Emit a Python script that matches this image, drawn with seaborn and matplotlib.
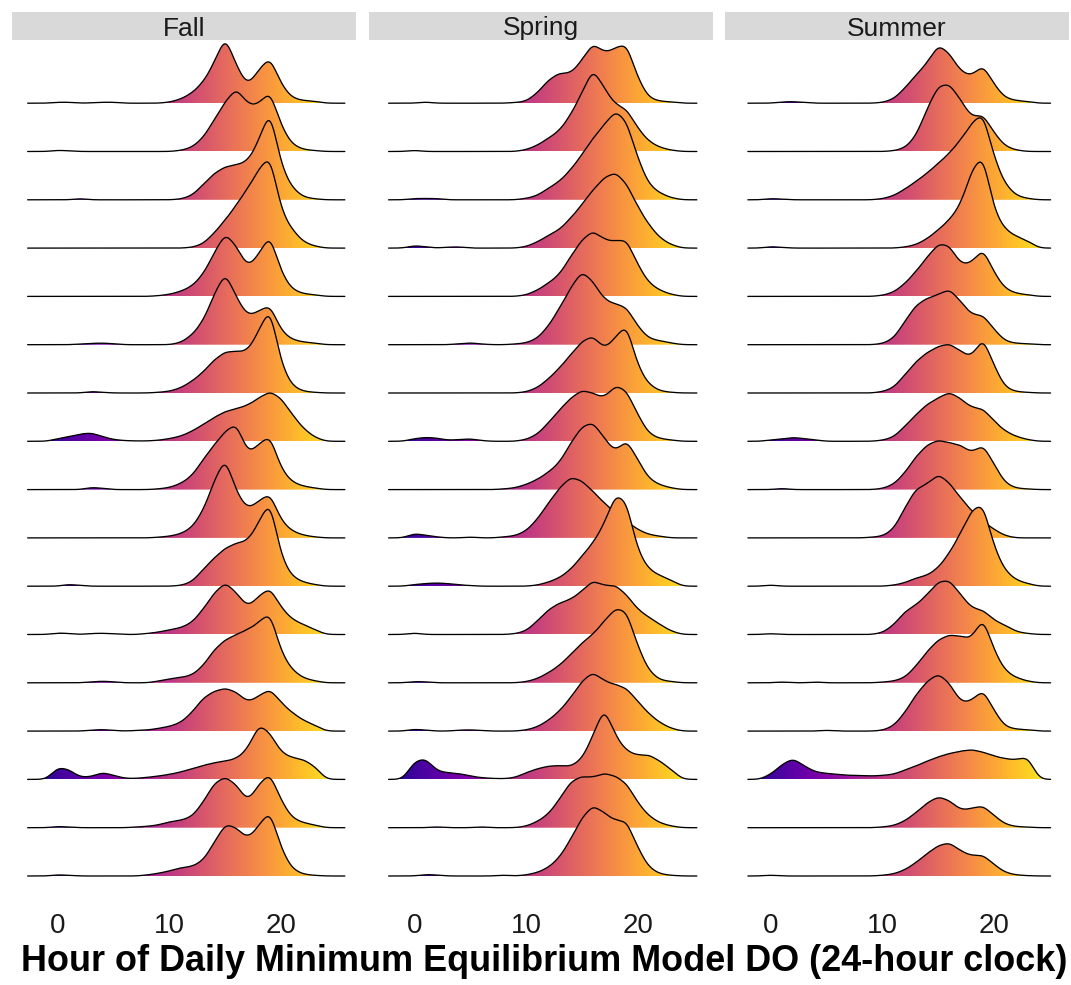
import numpy as np
import matplotlib
matplotlib.use("Agg")
import matplotlib.pyplot as plt
from matplotlib.patches import Polygon, Rectangle
from matplotlib.colors import Normalize
import seaborn as sns

# Hour of day (0-23) at which the daily minimum occurred
HOURS = np.arange(24)

SEASONS = ["Fall", "Spring", "Summer"]
X_TICKS = [0, 10, 20]
X_LABEL = "Hour of Daily Minimum Equilibrium Model DO (24-hour clock)"

# Day counts per hour for each site (top ridge first), one list per season
FALL = [
    [3, 3, 0, 1, 3, 3, 0, 0, 0, 0, 3, 12, 30, 62, 120, 210, 110, 50, 100, 145, 55, 15, 8, 6],
    [4, 2, 0, 0, 0, 0, 0, 0, 0, 0, 0, 3, 12, 40, 95, 150, 195, 140, 140, 190, 75, 20, 6, 3],
    [0, 0, 4, 0, 0, 0, 0, 0, 0, 0, 0, 2, 12, 45, 80, 100, 105, 115, 175, 285, 100, 35, 8, 3],
    [0, 0, 0, 0, 0, 0, 0, 0, 0, 0, 0, 0, 2, 12, 45, 85, 130, 180, 235, 290, 110, 55, 18, 6],
    [0, 0, 0, 0, 0, 0, 0, 0, 0, 2, 6, 15, 30, 65, 130, 195, 150, 85, 125, 195, 70, 20, 8, 5],
    [0, 0, 2, 4, 5, 3, 0, 0, 0, 0, 0, 6, 28, 70, 150, 225, 140, 85, 100, 125, 40, 15, 8, 5],
    [0, 0, 0, 5, 2, 0, 0, 0, 0, 2, 5, 15, 35, 62, 100, 125, 125, 125, 185, 270, 85, 20, 5, 2],
    [8, 14, 22, 26, 14, 5, 2, 1, 1, 3, 8, 15, 30, 50, 72, 90, 98, 108, 130, 152, 130, 80, 38, 12],
    [0, 0, 0, 7, 4, 0, 0, 0, 0, 2, 6, 18, 40, 90, 135, 175, 205, 105, 135, 170, 60, 22, 10, 5],
    [0, 0, 0, 0, 0, 0, 0, 0, 0, 2, 5, 12, 30, 80, 170, 250, 135, 85, 110, 140, 50, 20, 8, 3],
    [0, 6, 2, 0, 0, 0, 0, 0, 0, 0, 0, 2, 12, 50, 85, 115, 130, 135, 190, 270, 85, 28, 12, 5],
    [5, 3, 0, 3, 4, 2, 0, 0, 3, 7, 14, 20, 35, 75, 125, 160, 125, 80, 115, 145, 80, 45, 30, 15],
    [0, 0, 0, 3, 5, 3, 0, 0, 0, 5, 12, 16, 22, 50, 100, 130, 145, 160, 180, 220, 90, 38, 14, 6],
    [0, 0, 0, 3, 5, 2, 0, 2, 3, 8, 14, 25, 55, 100, 120, 130, 118, 85, 105, 130, 85, 55, 32, 18],
    [38, 30, 6, 8, 22, 12, 3, 3, 6, 10, 15, 22, 32, 42, 50, 55, 62, 90, 170, 140, 80, 65, 60, 40],
    [4, 2, 0, 0, 0, 0, 0, 2, 4, 8, 18, 22, 32, 75, 135, 155, 130, 75, 130, 170, 80, 28, 15, 8],
    [4, 2, 0, 0, 0, 0, 0, 0, 3, 8, 15, 25, 28, 45, 100, 160, 145, 110, 150, 205, 80, 20, 5, 2],
]

SPRING = [
    [0, 4, 0, 0, 0, 0, 0, 0, 0, 2, 5, 30, 70, 92, 88, 128, 185, 150, 165, 185, 75, 15, 6, 4],
    [4, 0, 0, 0, 0, 0, 0, 0, 0, 0, 5, 18, 40, 62, 110, 175, 255, 190, 140, 130, 70, 30, 12, 4],
    [4, 4, 4, 0, 0, 0, 0, 0, 0, 0, 4, 12, 35, 55, 90, 135, 185, 225, 270, 240, 125, 45, 20, 6],
    [8, 4, 0, 3, 4, 0, 0, 0, 0, 0, 4, 18, 38, 55, 90, 130, 175, 212, 230, 195, 125, 70, 30, 10],
    [0, 0, 0, 0, 0, 0, 0, 0, 0, 0, 4, 18, 40, 65, 120, 170, 200, 170, 165, 175, 95, 40, 18, 6],
    [0, 0, 0, 0, 3, 6, 2, 0, 0, 2, 5, 18, 55, 110, 170, 225, 190, 135, 122, 115, 55, 18, 12, 5],
    [0, 0, 0, 0, 0, 0, 0, 0, 0, 0, 3, 15, 42, 75, 115, 155, 175, 130, 165, 215, 80, 25, 6, 2],
    [8, 12, 10, 3, 5, 8, 2, 0, 0, 0, 5, 20, 55, 95, 130, 155, 145, 128, 170, 155, 80, 22, 8, 4],
    [0, 0, 0, 0, 0, 0, 0, 0, 2, 5, 15, 30, 52, 80, 140, 190, 205, 155, 110, 155, 90, 32, 14, 5],
    [14, 8, 3, 0, 0, 3, 0, 0, 3, 6, 20, 55, 105, 150, 185, 172, 140, 105, 75, 50, 25, 10, 5, 0],
    [5, 8, 10, 8, 4, 2, 0, 0, 0, 0, 0, 3, 12, 25, 50, 90, 130, 185, 280, 260, 105, 50, 32, 18],
    [5, 0, 0, 0, 0, 0, 0, 0, 0, 2, 10, 40, 75, 95, 105, 130, 165, 145, 150, 120, 75, 52, 30, 10],
    [4, 3, 0, 0, 0, 0, 0, 0, 0, 0, 3, 12, 30, 52, 85, 120, 145, 185, 225, 220, 110, 35, 8, 4],
    [6, 3, 0, 0, 3, 4, 2, 0, 0, 0, 3, 12, 32, 60, 100, 150, 180, 150, 140, 130, 90, 52, 25, 8],
    [55, 65, 25, 20, 18, 10, 5, 3, 2, 5, 20, 32, 40, 42, 38, 60, 130, 225, 130, 85, 72, 75, 55, 30],
    [0, 0, 3, 0, 0, 0, 3, 0, 0, 0, 4, 18, 40, 85, 140, 155, 150, 165, 155, 135, 75, 35, 14, 5],
    [0, 5, 3, 0, 0, 0, 0, 0, 3, 0, 3, 10, 25, 55, 110, 175, 215, 190, 165, 170, 85, 25, 6, 2],
]

SUMMER = [
    [0, 4, 5, 2, 0, 0, 0, 0, 0, 0, 2, 12, 45, 85, 120, 180, 150, 95, 80, 120, 55, 15, 8, 5],
    [0, 0, 0, 0, 0, 0, 0, 0, 0, 0, 0, 2, 10, 45, 130, 200, 205, 155, 100, 115, 55, 15, 4, 0],
    [4, 2, 0, 0, 0, 0, 0, 0, 0, 0, 3, 12, 32, 55, 80, 110, 140, 180, 230, 270, 125, 45, 12, 4],
    [5, 2, 0, 0, 0, 0, 0, 0, 0, 0, 0, 0, 3, 10, 28, 55, 85, 130, 235, 290, 110, 55, 35, 22],
    [0, 0, 0, 0, 0, 0, 0, 0, 0, 0, 3, 12, 38, 75, 118, 160, 155, 95, 100, 150, 70, 22, 9, 5],
    [0, 0, 0, 0, 0, 0, 0, 0, 0, 0, 3, 18, 70, 120, 140, 150, 170, 130, 88, 92, 45, 10, 4, 3],
    [0, 0, 0, 0, 0, 0, 0, 0, 0, 0, 4, 15, 55, 95, 122, 140, 150, 125, 105, 175, 80, 15, 4, 2],
    [4, 7, 12, 8, 4, 0, 0, 0, 0, 0, 3, 12, 45, 80, 112, 130, 150, 128, 100, 100, 60, 30, 14, 5],
    [0, 4, 0, 0, 0, 0, 0, 0, 0, 0, 3, 15, 50, 100, 135, 150, 140, 135, 108, 140, 75, 18, 4, 2],
    [0, 0, 0, 0, 0, 0, 0, 0, 0, 2, 5, 25, 90, 150, 160, 195, 165, 120, 80, 50, 25, 6, 0, 0],
    [4, 0, 0, 0, 0, 0, 0, 0, 0, 0, 0, 3, 10, 25, 32, 55, 100, 160, 230, 255, 115, 45, 18, 8],
    [3, 0, 0, 0, 0, 0, 0, 0, 0, 0, 5, 28, 70, 88, 120, 160, 165, 120, 78, 75, 42, 28, 8, 3],
    [0, 3, 0, 0, 3, 0, 0, 0, 0, 0, 2, 5, 15, 50, 95, 130, 145, 140, 130, 205, 95, 35, 15, 5],
    [0, 0, 0, 0, 0, 3, 0, 0, 0, 0, 2, 15, 55, 110, 150, 175, 145, 85, 90, 130, 60, 12, 6, 4],
    [15, 45, 65, 40, 22, 18, 15, 12, 12, 10, 12, 15, 28, 40, 55, 68, 78, 85, 90, 82, 70, 62, 58, 72],
    [0, 0, 0, 0, 0, 0, 0, 0, 0, 0, 2, 6, 20, 45, 75, 95, 82, 52, 58, 68, 36, 10, 3, 2],
    [3, 0, 0, 0, 0, 0, 0, 0, 0, 0, 2, 6, 18, 40, 68, 92, 102, 75, 60, 65, 34, 10, 3, 1],
]

SEASON_DATA = {"Fall": FALL, "Spring": SPRING, "Summer": SUMMER}

# Kernel bandwidth (hours) and how far each season's curves run past the data
BANDWIDTH = 0.6
EXTEND = {"Fall": 2.7, "Spring": 2.3, "Summer": 2.05}
COUNTS_PER_ROW = 145.0   # day counts that fill one row of spacing

sns.set_style("white")
plt.rcParams["font.family"] = ["Liberation Sans", "DejaVu Sans"]

W_PX, H_PX = 1071, 985
fig = plt.figure(figsize=(W_PX / 100, H_PX / 100), dpi=100)

PANEL_LEFT = [12, 368.5, 725]
PANEL_W = 344
TOP_PX, BOT_PX = 41, 905
ROW_PX = 48.3
LAST_BASE_PX = 876
STRIP_TOP, STRIP_BOT = 12, 40

fill_norm = Normalize(vmin=-2.7, vmax=25.7)


def bw_factor(weights):
    """Scale factor giving a fixed kernel width in hours for weighted data."""
    w = np.asarray(weights, float)
    p = w / w.sum()
    mean = np.sum(p * HOURS)
    var = np.sum(p * (HOURS - mean) ** 2) / (1 - np.sum(p ** 2))
    return BANDWIDTH / np.sqrt(var)


for season, left in zip(SEASONS, PANEL_LEFT):
    rows = SEASON_DATA[season]
    n = len(rows)
    ext = EXTEND[season]
    ax = fig.add_axes([left / W_PX, 1 - BOT_PX / H_PX,
                       PANEL_W / W_PX, (BOT_PX - TOP_PX) / H_PX])
    for i, counts in enumerate(rows):
        base = n - 1 - i
        sns.kdeplot(x=HOURS, weights=counts, bw_method=bw_factor(counts),
                    cut=20, clip=(HOURS.min() - ext, HOURS.max() + ext),
                    gridsize=600, common_grid=False, ax=ax,
                    color="black", linewidth=0.95)
        line = ax.lines[-1]
        xs, dens = line.get_data()
        ys = base + dens * np.sum(counts) / COUNTS_PER_ROW
        line.set_data(xs, ys)
        line.set_zorder(3 + 2 * i + 1)

        verts = np.column_stack([np.r_[xs[0], xs, xs[-1]],
                                 np.r_[base, ys, base]])
        outline = Polygon(verts, closed=True, facecolor="none",
                          edgecolor="none", transform=ax.transData)
        ax.add_patch(outline)
        grad = np.linspace(xs[0], xs[-1], 512)[None, :]
        im = ax.imshow(grad, extent=(xs[0], xs[-1], base, ys.max()),
                       origin="lower", cmap="plasma", norm=fill_norm,
                       aspect="auto", interpolation="bilinear",
                       zorder=3 + 2 * i)
        im.set_clip_path(outline)

    ax.set_xlim(-4.1, 26.7)
    ax.set_ylim(-(BOT_PX - LAST_BASE_PX) / ROW_PX,
                (LAST_BASE_PX - TOP_PX) / ROW_PX)
    ax.set_xlabel("")
    ax.set_ylabel("")
    ax.set_yticks([])
    ax.set_xticks(X_TICKS)
    ax.set_xticklabels([str(t) for t in X_TICKS])
    ax.tick_params(axis="x", length=4, width=1, color="#333333",
                   labelsize=20, pad=1.5, labelcolor="#1a1a1a")
    for sp in ax.spines.values():
        sp.set_visible(False)
    ax.set_facecolor("white")

    # facet strip above the panel
    ph = BOT_PX - TOP_PX
    y0 = 1 + (TOP_PX - STRIP_BOT) / ph
    sh = (STRIP_BOT - STRIP_TOP) / ph
    ax.add_patch(Rectangle((0, y0), 1, sh, transform=ax.transAxes,
                           facecolor="#D9D9D9", edgecolor="none",
                           clip_on=False, zorder=1))
    ax.text(0.5, y0 + sh / 2, season, transform=ax.transAxes,
            ha="center", va="center_baseline", fontsize=19,
            color="#1a1a1a", zorder=2)

fig.text(544 / W_PX, 14 / H_PX, X_LABEL, ha="center", va="baseline",
         fontsize=25.9, fontweight="bold", color="black")

fig.savefig("out.png", dpi=100)
